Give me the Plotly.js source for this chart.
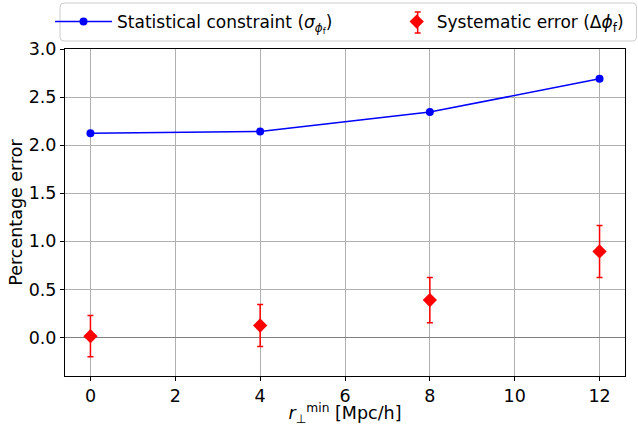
<!DOCTYPE html>
<html>
<head>
<meta charset="utf-8">
<script src="https://cdn.plot.ly/plotly-3.0.1.min.js"></script>
<style>html,body{margin:0;padding:0;background:#fff;}#plot{width:638px;height:426px;}</style>
</head>
<body>
<div id="plot"></div>
<script>
const rPerpMin = [0, 4, 8, 12];
const statConstraint = [2.125, 2.142, 2.344, 2.69];
const sysError = [0.014, 0.125, 0.389, 0.895];
const sysErrorBar = [0.215, 0.218, 0.235, 0.27];
const xTicks = [0, 2, 4, 6, 8, 10, 12];
const yTicks = [0.0, 0.5, 1.0, 1.5, 2.0, 2.5, 3.0];

const W = 638, H = 426;
const M = {l: 65, r: 12.5, t: 49, b: 50, autoexpand: false};
const pw = W - M.l - M.r, ph = H - M.t - M.b;
const px2x = p => (p - M.l) / pw;
const px2y = p => (H - M.b - p) / ph;

const font = {family: 'DejaVu Sans', size: 17.5, color: '#000'};
const legFont = {family: 'DejaVu Sans', size: 17, color: '#000'};

const traces = [
  {
    x: rPerpMin, y: statConstraint, type: 'scatter', mode: 'lines+markers',
    name: 'Statistical constraint (<i>σ</i><sub><i>ϕ</i><sub>f</sub></sub>)',
    line: {color: 'blue', width: 1.5},
    marker: {color: 'blue', size: 8, symbol: 'circle'},
    legend: 'legend'
  },
  {
    x: rPerpMin, y: sysError, type: 'scatter', mode: 'markers',
    name: 'Systematic error (Δ<i>ϕ</i><sub>f</sub>)',
    marker: {color: 'red', size: 11, symbol: 'diamond'},
    error_y: {type: 'data', array: sysErrorBar, visible: true, color: 'red', thickness: 1.5, width: 3},
    legend: 'legend2'
  }
];

// rounded legend frame (pixel -> paper)
const bx0 = 60, bx1 = 637, by0 = 3, by1 = 41, rr = 4;
const X = px2x, Y = px2y;
const framePath =
  `M ${X(bx0 + rr)},${Y(by0)} L ${X(bx1 - rr)},${Y(by0)} Q ${X(bx1)},${Y(by0)} ${X(bx1)},${Y(by0 + rr)} ` +
  `L ${X(bx1)},${Y(by1 - rr)} Q ${X(bx1)},${Y(by1)} ${X(bx1 - rr)},${Y(by1)} ` +
  `L ${X(bx0 + rr)},${Y(by1)} Q ${X(bx0)},${Y(by1)} ${X(bx0)},${Y(by1 - rr)} ` +
  `L ${X(bx0)},${Y(by0 + rr)} Q ${X(bx0)},${Y(by0)} ${X(bx0 + rr)},${Y(by0)} Z`;

// error-bar glyph for the legend key of the systematic-error entry
const ex = 418, ey0 = 12, ey1 = 33;
const legendErr = [
  {x0: X(ex), x1: X(ex), y0: Y(ey0), y1: Y(ey1)},
  {x0: X(ex - 3), x1: X(ex + 3), y0: Y(ey0), y1: Y(ey0)},
  {x0: X(ex - 3), x1: X(ex + 3), y0: Y(ey1), y1: Y(ey1)}
].map(s => Object.assign({type: 'line', xref: 'paper', yref: 'paper', line: {color: 'red', width: 1.5}, layer: 'above'}, s));

const legCommon = {
  orientation: 'h', yanchor: 'middle', y: px2y(22), xanchor: 'left',
  bgcolor: 'rgba(0,0,0,0)', borderwidth: 0, font: legFont
};

const layout = {
  width: W, height: H,
  margin: M,
  paper_bgcolor: '#fff', plot_bgcolor: '#fff',
  font: font,
  showlegend: true,
  legend: Object.assign({}, legCommon, {x: px2x(50), itemwidth: 57}),
  legend2: Object.assign({}, legCommon, {x: px2x(397), itemwidth: 30}),
  shapes: [{
    type: 'path', xref: 'paper', yref: 'paper', path: framePath,
    fillcolor: 'rgba(255,255,255,0.8)', line: {color: '#cccccc', width: 1}, layer: 'above'
  }].concat(legendErr),
  xaxis: {
    range: [-0.6, 12.6], tickvals: xTicks, ticktext: xTicks.map(String),
    showgrid: true, gridcolor: '#b0b0b0', gridwidth: 1,
    showline: true, linecolor: '#000', linewidth: 1, mirror: true,
    ticks: 'outside', ticklen: 4, tickcolor: '#000', zeroline: false,
    tickfont: font,
    title: {text: '<i>r</i><sub>⊥</sub><sup>min</sup> [Mpc/h]', font: font, standoff: 8}
  },
  yaxis: {
    range: [-0.4, 3.0], tickvals: yTicks, ticktext: yTicks.map(v => v.toFixed(1)),
    showgrid: true, gridcolor: '#b0b0b0', gridwidth: 1,
    showline: true, linecolor: '#000', linewidth: 1, mirror: true,
    ticks: 'outside', ticklen: 4, tickcolor: '#000',
    zeroline: true, zerolinecolor: '#808080', zerolinewidth: 1.5,
    tickfont: font,
    title: {text: 'Percentage error', font: font, standoff: 1}
  }
};

Plotly.newPlot('plot', traces, layout, {displayModeBar: false, staticPlot: true});
</script>
</body>
</html>
